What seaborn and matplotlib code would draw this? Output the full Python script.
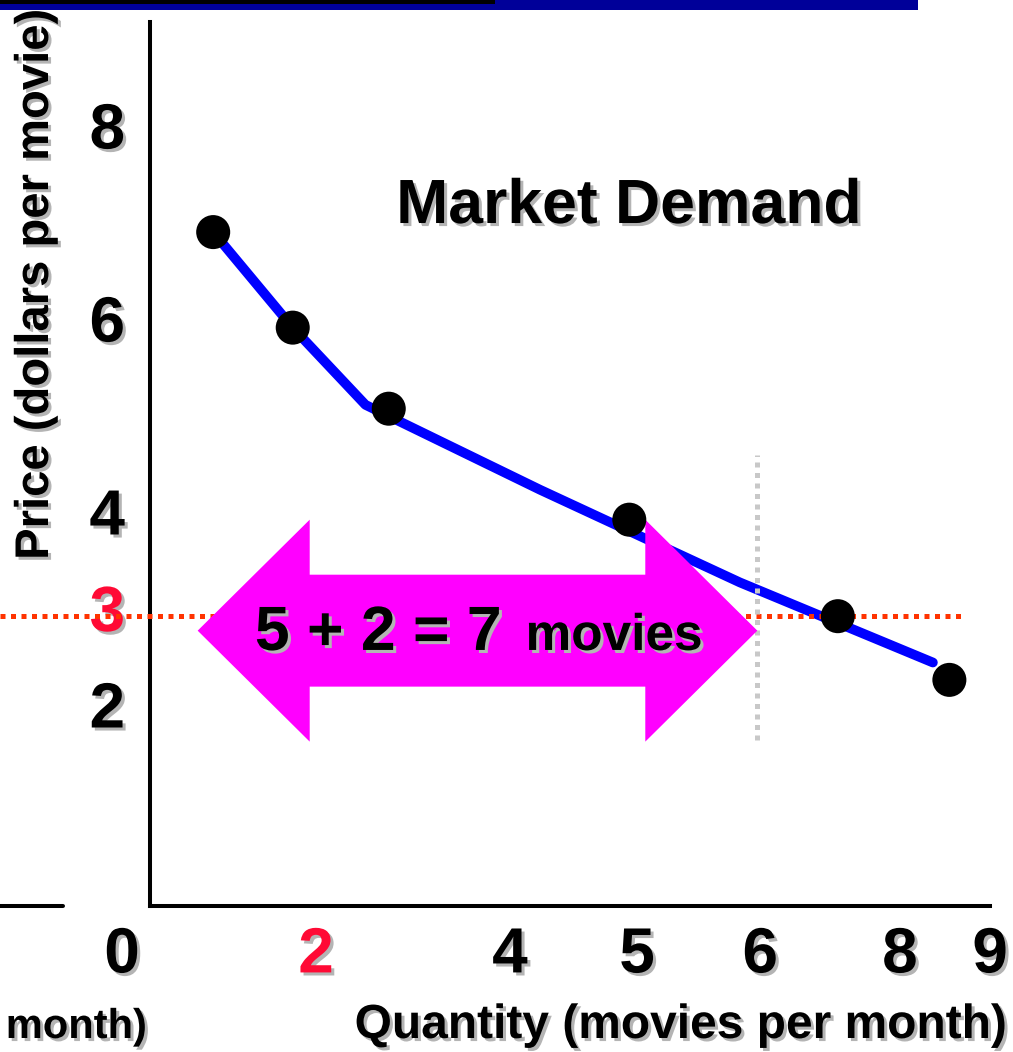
import matplotlib
matplotlib.use("Agg")
import matplotlib.pyplot as plt
import matplotlib.patheffects as pe
from matplotlib.patches import Polygon, Rectangle
from matplotlib.lines import Line2D
import pandas as pd
import seaborn as sns

# Market demand schedule (quantity, price)
point_quantity = [0.94, 1.76, 2.75, 5.23, 7.38, 8.53]
point_price = [6.89, 5.90, 5.06, 3.91, 2.91, 2.25]

# Vertices of the drawn demand curve
curve_quantity = [0.94, 1.76, 2.51, 4.31, 6.37, 8.36]
curve_price = [6.89, 5.90, 5.10, 4.22, 3.26, 2.43]

# Axis tick labels
x_tick_pos = [0, 2, 4, 5.31, 6.58, 8.02, 8.95]
x_tick_labels = ["0", "2", "4", "5", "6", "8", "9"]
y_tick_pos = [2, 3, 4, 6, 8]
y_tick_labels = ["2", "3", "4", "6", "8"]

# Market price and the quantity summed across buyers
market_price = 2.91
combined_quantity = 6.55
arrow_start = 0.78
arrow_price = 2.76

RED = "#ff0a35"
SHADOW = [pe.SimplePatchShadow(offset=(2.2, -2.2), shadow_rgbFace="#b4b4b4", alpha=1.0),
          pe.Normal()]

sns.set_theme(style="white")
plt.rcParams["font.family"] = ["Liberation Sans", "DejaVu Sans"]
plt.rcParams["font.weight"] = "bold"
plt.rcParams["text.color"] = "black"

W, H = 1013, 1052
fig = plt.figure(figsize=(W / 100, H / 100), dpi=100)
ax = fig.add_axes([0, 0, 1, 1])
ax.patch.set_visible(False)

# Data window: 97 px per unit of quantity, 96.5 px per dollar
x_lo, x_hi = -1.258, 9.186
y_lo, y_hi = -1.606, 9.295
ax.set_xlim(x_lo, x_hi)
ax.set_ylim(y_lo, y_hi)

axis_x = 0.289   # quantity where the price axis sits
axis_y = -0.093  # price where the quantity axis sits

for side in ("top", "right"):
    ax.spines[side].set_visible(False)
ax.spines["left"].set_position(("data", axis_x))
ax.spines["left"].set_bounds(axis_y, 9.07)
ax.spines["bottom"].set_position(("data", axis_y))
ax.spines["bottom"].set_bounds(axis_x, 8.95)
for side in ("left", "bottom"):
    ax.spines[side].set_linewidth(2.9)
    ax.spines[side].set_color("black")
    ax.spines[side].set_capstyle("projecting")

ax.set_xticks(x_tick_pos, x_tick_labels)
ax.set_yticks(y_tick_pos, y_tick_labels)
ax.tick_params(axis="x", length=0, pad=14, labelsize=46, labelcolor="black")
ax.tick_params(axis="y", length=0, pad=18, labelsize=46, labelcolor="black")
for lab in ax.get_xticklabels() + ax.get_yticklabels():
    lab.set_fontweight("bold")
    lab.set_path_effects(SHADOW)
ax.get_xticklabels()[1].set_color(RED)
ax.get_yticklabels()[1].set_color(RED)

# Demand curve and schedule points
curve = pd.DataFrame({"q": curve_quantity, "p": curve_price})
pts = pd.DataFrame({"q": point_quantity, "p": point_price})
sns.lineplot(data=curve, x="q", y="p", sort=False, estimator=None, ax=ax,
             color="#0000ff", linewidth=7, solid_capstyle="round", zorder=2)

# Market price and combined quantity guides
ax.plot([x_lo, 8.69], [market_price, market_price], color="#ff3300", linewidth=3.6,
        linestyle=(0, (1, 1.1)), dash_capstyle="butt", zorder=3)
ax.plot([combined_quantity, combined_quantity], [1.63, 4.58], color="#c8c8c8",
        linewidth=3.6, linestyle=(0, (1, 1.1)), dash_capstyle="butt", zorder=3)

# Double-headed arrow spanning the combined quantity
head_len, head_half, shaft_half = 1.155, 1.15, 0.58
l, r, c = arrow_start, combined_quantity, arrow_price
arrow = Polygon([
    (l, c), (l + head_len, c + head_half), (l + head_len, c + shaft_half),
    (r - head_len, c + shaft_half), (r - head_len, c + head_half), (r, c),
    (r - head_len, c - head_half), (r - head_len, c - shaft_half),
    (l + head_len, c - shaft_half), (l + head_len, c - head_half)],
    closed=True, facecolor="#ff00ff", edgecolor="none", zorder=4)
ax.add_patch(arrow)

sns.scatterplot(data=pts, x="q", y="p", ax=ax, s=600, color="black",
                edgecolor="none", zorder=5, legend=False)

ax.set_xlabel("")
ax.set_ylabel("")

# Texts
ax.text(5.227, 6.984, "Market Demand", fontsize=45, fontweight="bold", color="black",
        ha="center", va="baseline", path_effects=SHADOW, zorder=6)
ax.text(1.37, 2.56, "5 + 2 = 7", fontsize=45, fontweight="bold", color="black",
        ha="left", va="baseline", path_effects=SHADOW, zorder=6)
ax.text(4.16, 2.56, "movies", fontsize=37, fontweight="bold", color="black",
        ha="left", va="baseline", path_effects=SHADOW, zorder=6)

fig.text(1007 / W, 1 - 1038 / H, "Quantity (movies per month)", fontsize=34.5,
         fontweight="bold", color="black", ha="right", va="baseline",
         path_effects=SHADOW)
fig.text(147 / W, 1 - 1038 / H, "month)", fontsize=30,
         fontweight="bold", color="black", ha="right", va="baseline",
         path_effects=SHADOW)
fig.text(36 / W, 1 - 284 / H, "Price (dollars per movie)", fontsize=34,
         fontweight="bold", color="black", ha="center", va="center", rotation=90,
         path_effects=SHADOW)

# Neighbouring panel's quantity axis and the slide header bars
fig.add_artist(Line2D([0, 63 / W], [1 - 906 / H, 1 - 906 / H], color="black",
                      linewidth=2.9, transform=fig.transFigure))
fig.add_artist(Rectangle((0, 1 - 10 / H), 918 / W, 10 / H, transform=fig.transFigure,
                         facecolor="#000099", edgecolor="none"))
fig.add_artist(Rectangle((0, 1 - 4 / H), 495 / W, 4 / H, transform=fig.transFigure,
                         facecolor="black", edgecolor="none"))

fig.savefig("out.png", dpi=100)
